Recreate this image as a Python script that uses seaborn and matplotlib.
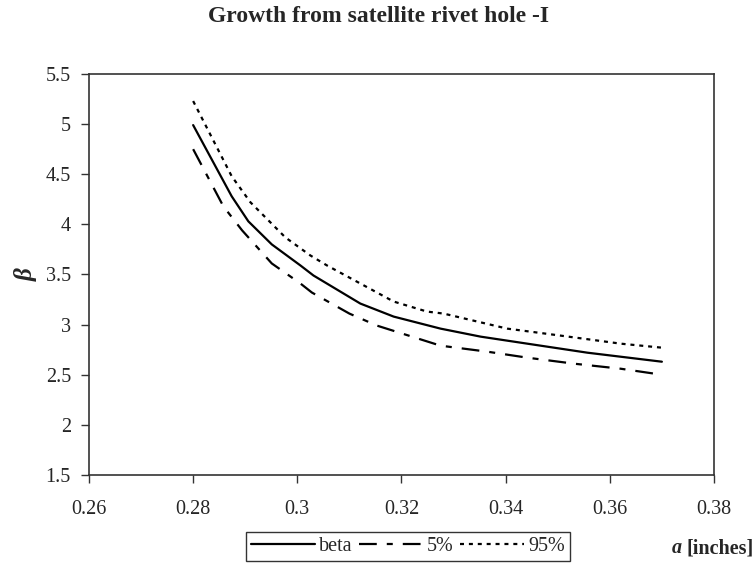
import matplotlib
matplotlib.use("Agg")
import matplotlib.pyplot as plt
import seaborn as sns

# data
a_beta = [0.28, 0.2874, 0.2906, 0.2951, 0.3006, 0.3031, 0.3121, 0.3185, 0.3275, 0.3352, 0.3480, 0.3557, 0.37]
beta = [4.99, 4.28, 4.03, 3.80, 3.59, 3.49, 3.21, 3.08, 2.96, 2.88, 2.78, 2.72, 2.63]

a_lo = [0.28, 0.2858, 0.2894, 0.2951, 0.3006, 0.3028, 0.3100, 0.3153, 0.3275, 0.3365, 0.3442, 0.3532, 0.3621, 0.37]
beta_lo = [4.75, 4.18, 3.94, 3.61, 3.41, 3.32, 3.11, 2.99, 2.79, 2.73, 2.67, 2.61, 2.56, 2.50]

a_hi = [0.28, 0.2874, 0.2910, 0.2977, 0.3025, 0.3057, 0.3185, 0.3249, 0.3281, 0.3403, 0.3506, 0.3621, 0.37]
beta_hi = [5.23, 4.48, 4.22, 3.87, 3.69, 3.59, 3.23, 3.13, 3.11, 2.96, 2.89, 2.81, 2.77]

x_ticks = [0.26, 0.28, 0.3, 0.32, 0.34, 0.36, 0.38]
x_ticklabels = ['0.26', '0.28', '0.3', '0.32', '0.34', '0.36', '0.38']
y_ticks = [1.5, 2, 2.5, 3, 3.5, 4, 4.5, 5, 5.5]
y_ticklabels = ['1.5', '2', '2.5', '3', '3.5', '4', '4.5', '5', '5.5']

sns.set_style("white")
plt.rcParams['font.family'] = ['Liberation Serif', 'DejaVu Serif']

fig = plt.figure(figsize=(7.56, 5.69), dpi=100)
ax = fig.add_axes([0.1177, 0.1652, 0.8267, 0.7048])

sns.lineplot(x=a_beta, y=beta, ax=ax, color='black', lw=1.6, label='beta')
sns.lineplot(x=a_lo, y=beta_lo, ax=ax, color='black', lw=1.6, label='5%')
sns.lineplot(x=a_hi, y=beta_hi, ax=ax, color='black', lw=1.6, label='95%')
ax.lines[1].set_dashes([8, 4.5, 2.7, 4.5])
ax.lines[2].set_dashes([1.8, 2.2])

ax.set_xlim(0.26, 0.38)
ax.set_ylim(1.5, 5.5)
ax.set_xticks(x_ticks)
ax.set_xticklabels(x_ticklabels, fontsize=14.5)
ax.set_yticks(y_ticks)
ax.set_yticklabels(y_ticklabels, fontsize=14.5)
ax.tick_params(axis='both', direction='out', length=6, width=1, color='#333333',
               left=True, bottom=True)
ax.tick_params(axis='y', pad=7)
ax.tick_params(axis='x', pad=12)
for s in ax.spines.values():
    s.set_visible(True)
    s.set_color('#333333')
    s.set_linewidth(1.2)
ax.set_xlabel('')
ax.set_ylabel('β', fontsize=18, fontstyle='italic', fontweight='bold', labelpad=6)

fig.suptitle('Growth from satellite rivet hole -I', fontsize=17, fontweight='bold', y=0.99)

fig.text(0.889, 0.028, 'a', fontsize=14.5, fontstyle='italic', fontweight='bold')
fig.text(0.908, 0.028, '[inches]', fontsize=14.5, fontweight='bold')

handles, labels = ax.get_legend_handles_labels()
ax.get_legend().remove()
leg = fig.legend(handles, labels, ncol=3, loc='upper left', bbox_to_anchor=(0.325, 0.065),
                 fontsize=14.5, frameon=True, fancybox=False, handlelength=3.2,
                 columnspacing=0.3, handletextpad=0.2, borderpad=0.25,
                 borderaxespad=0)
leg.get_frame().set_edgecolor('black')
leg.get_frame().set_linewidth(1.0)

fig.savefig('out.png', dpi=100)
